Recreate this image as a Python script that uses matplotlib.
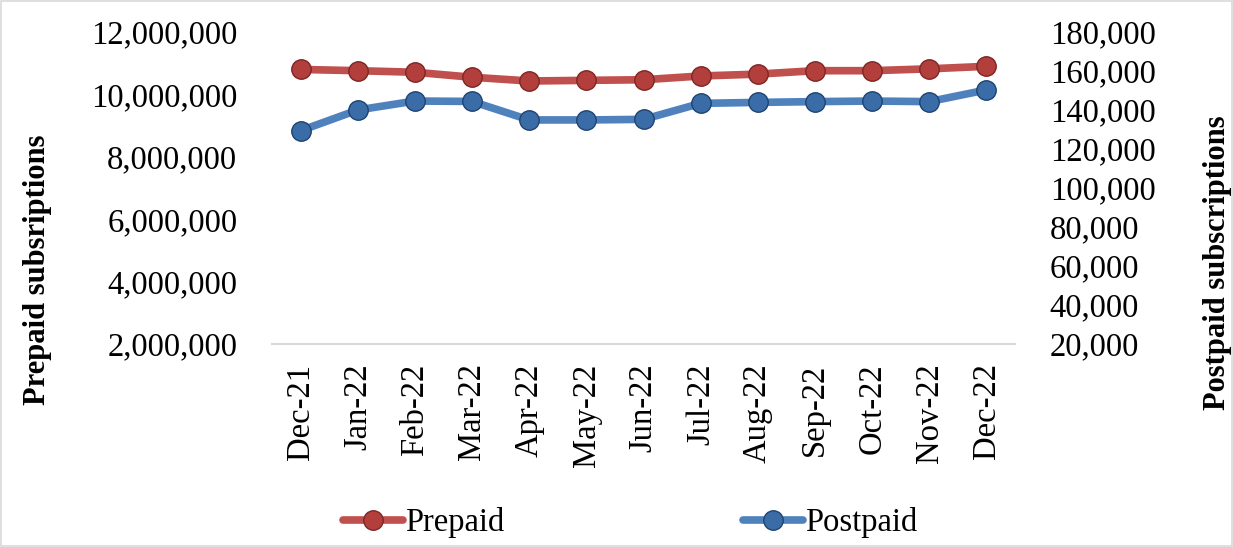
import matplotlib.pyplot as plt
from matplotlib.ticker import FuncFormatter
from matplotlib.patches import Rectangle

months = ['Dec-21', 'Jan-22', 'Feb-22', 'Mar-22', 'Apr-22', 'May-22', 'Jun-22',
          'Jul-22', 'Aug-22', 'Sep-22', 'Oct-22', 'Nov-22', 'Dec-22']
prepaid = [10800000, 10760000, 10710000, 10550000, 10430000, 10450000, 10470000,
           10590000, 10650000, 10760000, 10760000, 10820000, 10900000]
postpaid = [129400, 140000, 144600, 144400, 134900, 134900, 135200,
            143400, 143900, 144300, 144600, 144300, 150300]

plt.rcParams['font.family'] = ['Liberation Serif', 'DejaVu Serif']
fs = 23.5

red, red_dark = '#C0504D', '#B23F3C'
blue, blue_dark = '#4F81BD', '#3A6DA8'

fig = plt.figure(figsize=(12.33, 5.47), dpi=100)
ax = fig.add_axes([272 / 1233, 1 - 344 / 547, (1015 - 272) / 1233, (344 - 32) / 547])
ax2 = ax.twinx()

x = list(range(len(months)))
ax.plot(x, prepaid, color=red, lw=5.5, marker='o', ms=14, mfc=red_dark,
        mec='#7E2624', mew=1, solid_capstyle='round', zorder=3, label='Prepaid')
ax2.plot(x, postpaid, color=blue, lw=5.5, marker='o', ms=14, mfc=blue_dark,
         mec='#1F4370', mew=1, solid_capstyle='round', zorder=3, label='Postpaid')

ax.set_xlim(-0.5, len(months) - 0.5)
ax.set_ylim(2000000, 12000000)
ax.set_yticks(range(2000000, 12000001, 2000000))
ax2.set_ylim(20000, 180000)
ax2.set_yticks(range(20000, 180001, 20000))

fmt = FuncFormatter(lambda v, p: f'{int(v):,}')
ax.yaxis.set_major_formatter(fmt)
ax2.yaxis.set_major_formatter(fmt)

ax.set_xticks(x)
ax.set_xticklabels(months, rotation=90, fontsize=fs)
ax.tick_params(axis='y', length=0, labelsize=fs, pad=25)
ax.tick_params(axis='x', length=0, pad=14)
ax2.tick_params(axis='y', length=0, labelsize=fs, pad=25)

for a in (ax, ax2):
    for s in ('top', 'left', 'right'):
        a.spines[s].set_visible(False)
    a.spines['bottom'].set_color('#D9D9D9')
    a.spines['bottom'].set_linewidth(1.5)

fig.text(38 / 1233, 1 - 270 / 547, 'Prepaid subsriptions', rotation=90,
         fontsize=22, fontweight='bold', ha='center', va='center')
fig.text(1217 / 1233, 1 - 263 / 547, 'Postpaid subscriptions', rotation=90,
         fontsize=22, fontweight='bold', ha='center', va='center')

h1, l1 = ax.get_legend_handles_labels()
h2, l2 = ax2.get_legend_handles_labels()
fig.legend(h1 + h2, l1 + l2, loc='center', bbox_to_anchor=(630 / 1233, 1 - 523 / 547),
           ncol=2, frameon=False, fontsize=fs, handlelength=1.85, handletextpad=0.05,
           columnspacing=7.3)

fig.patches.append(Rectangle((0.001, 0.001), 0.998, 0.997, transform=fig.transFigure,
                             fill=False, edgecolor='#D9D9D9', lw=1.2))

fig.savefig('out.png', dpi=100)
